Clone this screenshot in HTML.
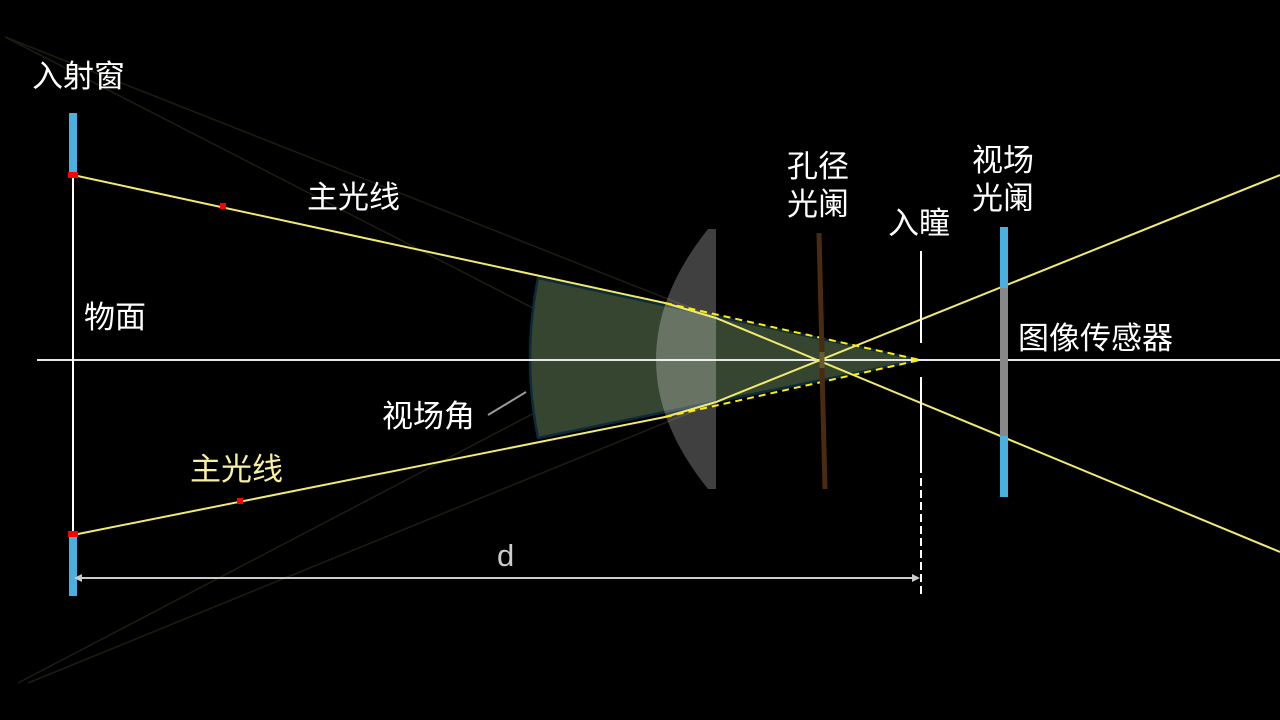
<!DOCTYPE html>
<html><head><meta charset="utf-8"><style>
html,body{margin:0;padding:0;background:#000;width:1280px;height:720px;overflow:hidden}
svg{display:block}
text{font-family:"Liberation Sans","Noto Sans CJK SC",sans-serif;font-size:31px;fill:#fff}
</style></head><body>
<svg width="1280" height="720" viewBox="0 0 1280 720">
<rect width="1280" height="720" fill="#000"/>
<!-- faint lines -->
<g stroke="#1e1d12" stroke-width="1.5" fill="none">
<line x1="5" y1="37" x2="716" y2="318"/>
<line x1="5" y1="37" x2="716" y2="402"/>
<line x1="18" y1="683" x2="716" y2="318"/>
<line x1="28" y1="683" x2="716" y2="402"/>
</g>
<!-- green sector -->
<path d="M920,360 L538,278 Q522,360 538,438 Z" fill="#364530" stroke="#0c2a3c" stroke-width="2.5"/>
<!-- axis -->
<line x1="37" y1="360" x2="1280" y2="360" stroke="#e8e8e8" stroke-width="2"/>
<!-- lens -->
<path d="M716,229 L708,229 Q604,360 708,489 L716,489 Z" fill="#fff" fill-opacity="0.25"/>
<!-- object plane -->
<line x1="73" y1="175" x2="73" y2="535" stroke="#fff" stroke-width="2"/>
<rect x="69" y="113" width="8" height="62" fill="#4ab0e0"/>
<rect x="69" y="535" width="8" height="61" fill="#4ab0e0"/>
<!-- chief rays -->
<g stroke="#f0ea70" stroke-width="2" fill="none">
<polyline points="73,175 665,303 716,318 1280,552"/>
<polyline points="73,535 665,417 716,402 1280,175"/>
</g>
<g stroke="#ffee00" stroke-width="2" stroke-dasharray="7,5" fill="none">
<line x1="665" y1="303" x2="920" y2="360"/>
<line x1="665" y1="417" x2="920" y2="360"/>
</g>
<rect x="68" y="172" width="10" height="6" fill="#f00"/>
<rect x="68" y="531" width="10" height="6" fill="#f00"/>
<rect x="220" y="203" width="6" height="6" fill="#f00"/>
<rect x="237" y="498" width="6" height="6" fill="#f00"/>
<!-- aperture stop -->
<line x1="819" y1="233" x2="822" y2="352" stroke="#4a2a10" stroke-width="5"/>
<line x1="822" y1="352" x2="822" y2="368" stroke="#6a5a30" stroke-width="5"/>
<line x1="822" y1="368" x2="825" y2="489" stroke="#4a2a10" stroke-width="5"/>
<!-- entrance pupil -->
<g stroke="#fff" stroke-width="2">
<line x1="921" y1="251" x2="921" y2="343"/>
<line x1="921" y1="377" x2="921" y2="473"/>
<line x1="921" y1="478" x2="921" y2="597" stroke-dasharray="8,4"/>
</g>
<!-- field stop -->
<rect x="1000" y="227" width="8" height="61" fill="#4ab0e0"/>
<rect x="1000" y="288" width="8" height="148" fill="#888"/>
<rect x="1000" y="436" width="8" height="61" fill="#4ab0e0"/>
<!-- dimension -->
<line x1="80" y1="578" x2="914" y2="578" stroke="#ccc" stroke-width="2"/>
<polygon points="74,578 82,574 82,582" fill="#ccc"/>
<polygon points="920,578 912,574 912,582" fill="#ccc"/>
<text x="497" y="566" style="fill:#ccc">d</text>
<!-- fov pointer -->
<line x1="488" y1="415" x2="526" y2="392" stroke="#999" stroke-width="2"/>
<!-- labels -->
<text x="32" y="87">入射窗</text>
<text x="307" y="208">主光线</text>
<text x="84" y="328">物面</text>
<text x="190" y="480" style="fill:#f8f0a0">主光线</text>
<text x="382" y="427">视场角</text>
<text x="787" y="177">孔径</text>
<text x="787" y="215">光阑</text>
<text x="888" y="234">入瞳</text>
<text x="972" y="171">视场</text>
<text x="972" y="209">光阑</text>
<text x="1018" y="349">图像传感器</text>
</svg>
</body></html>
